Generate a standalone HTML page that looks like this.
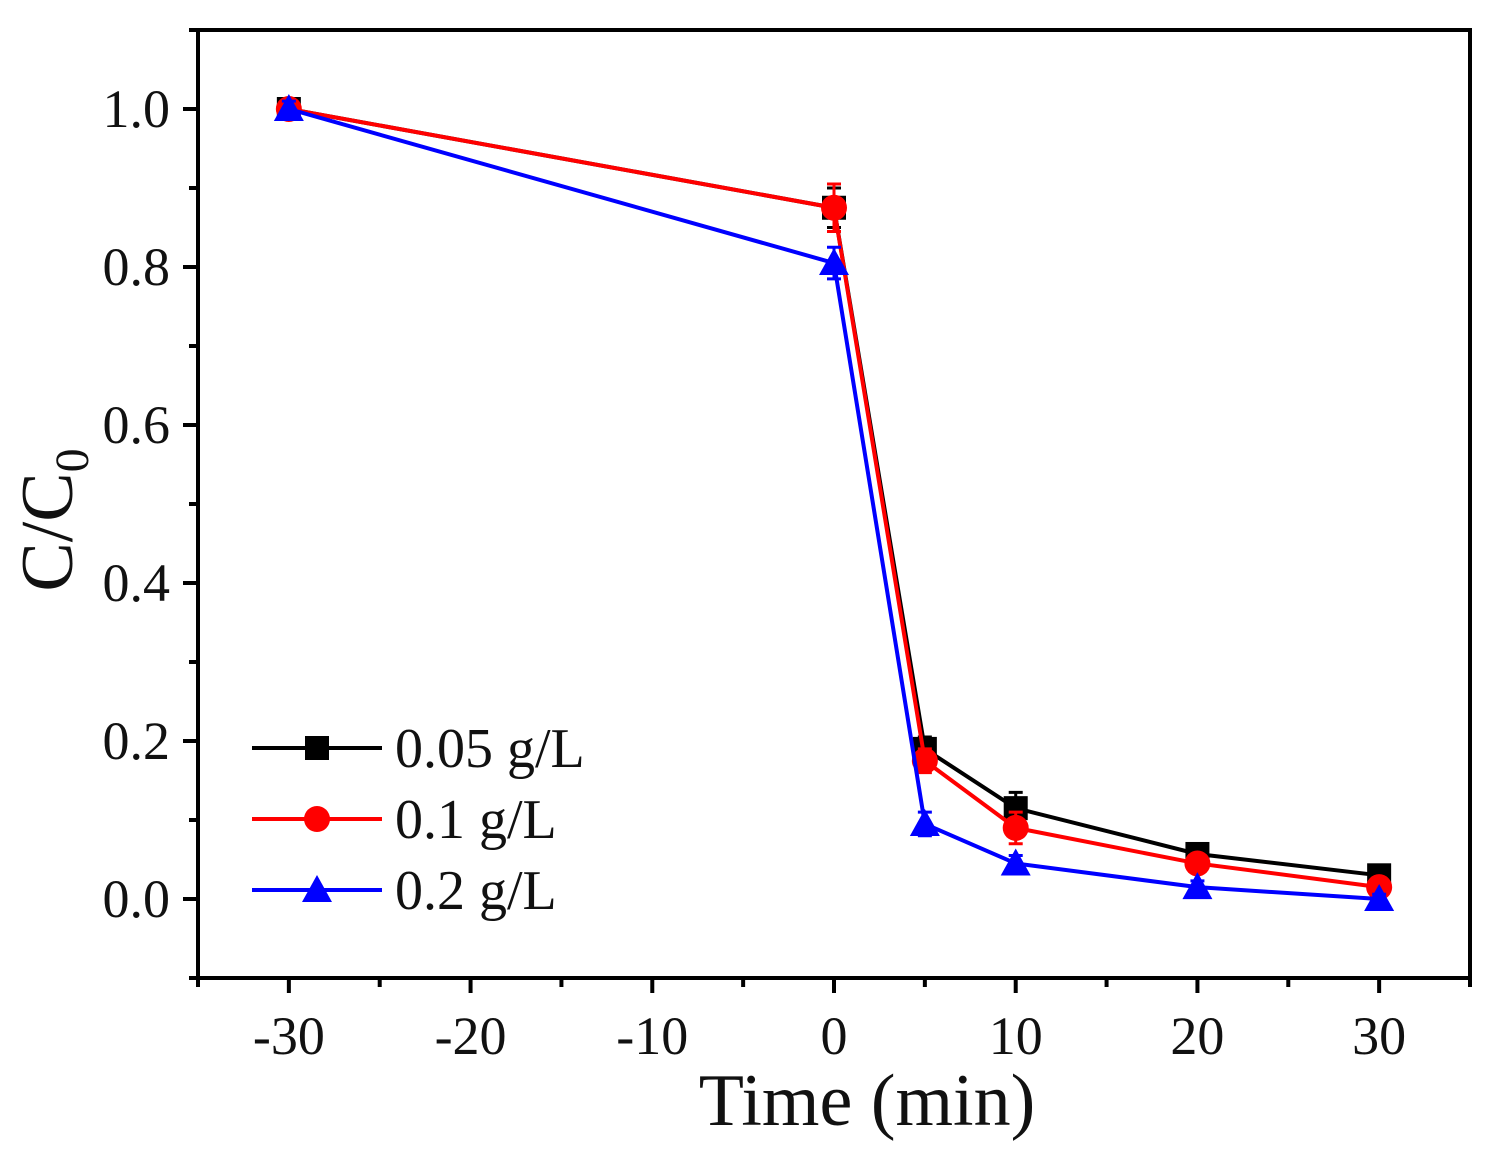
<!DOCTYPE html>
<html><head><meta charset="utf-8"><style>
body{margin:0;background:#fff}
svg text{font-family:"Liberation Serif",serif;fill:#111}
</style></head><body>
<svg id="chart" width="1502" height="1158" viewBox="0 0 1502 1158" xmlns="http://www.w3.org/2000/svg">
<g id="axes"></g><g id="series"></g><g id="legend"></g>
</svg>
<script>
const xValues=[-30,0,5,10,20,30];
const series1=[1.0,0.875,0.19,0.115,0.057,0.03];
const series2=[1.0,0.875,0.175,0.09,0.045,0.015];
const series3=[1.0,0.805,0.095,0.045,0.015,0.0];
const err1=[0.01,0.025,0.015,0.02,0.01,0.008];
const err2=[0.01,0.03,0.015,0.02,0.01,0.008];
const err3=[0.01,0.02,0.015,0.01,0.008,0.006];
const seriesNames=["0.05 g/L","0.1 g/L","0.2 g/L"];
const xTicks=[-30,-20,-10,0,10,20,30];
const yTicks=[0,0.2,0.4,0.6,0.8,1.0];
const NS="http://www.w3.org/2000/svg";
const L=198,R=1470,T=30,B=978;
const X=v=>L+(v+35)/70*(R-L);
const Y=v=>B-(v+0.1)/1.2*(B-T);
function mk(tag,at,parent){const e=document.createElementNS(NS,tag);for(const k in at)e.setAttribute(k,at[k]);parent.appendChild(e);return e;}
const ax=document.getElementById('axes');
const fr=mk('rect',{x:L,y:T,width:R-L,height:B-T,fill:'none',stroke:'#000','stroke-width':4},ax);

for(let v=-35;v<=35;v+=5){const big=v%10===0;const t=mk('line',{x1:X(v),x2:X(v),y1:B,y2:B+(big?15:9),stroke:'#000','stroke-width':4},ax);
}
xTicks.forEach(v=>{const t=mk('text',{x:X(v),y:1054,'font-size':54,'text-anchor':'middle'},ax);t.textContent=v;
});
for(let i=-1;i<=11;i++){const v=i/10;const big=i%2===0;const t=mk('line',{x1:L,x2:L-(big?15:9),y1:Y(v),y2:Y(v),stroke:'#000','stroke-width':4},ax);
}
yTicks.forEach(v=>{const t=mk('text',{x:170,y:Y(v)+18,'font-size':54,'text-anchor':'end'},ax);t.textContent=v.toFixed(1);
});
const xt=mk('text',{x:867,y:1125,'font-size':74,'text-anchor':'middle'},ax);xt.textContent='Time (min)';

const yt=mk('text',{transform:'translate(72,520) rotate(-90)','font-size':74,'text-anchor':'middle'},ax);
yt.innerHTML='C/C<tspan font-size="48" dy="16">0</tspan>';

const colors=['#000','#f00','#00f'];const shapes=['square','circle','triangle'];
function marker(g,sh,x,y,c){let m;
if(sh==='square')m=mk('rect',{x:x-12,y:y-12,width:24,height:24,fill:c},g);
else if(sh==='circle')m=mk('circle',{cx:x,cy:y,r:13,fill:c},g);
else m=mk('polygon',{points:`${x},${y-15} ${x-15},${y+12} ${x+15},${y+12}`,fill:c},g);
return m;}
const sg=document.getElementById('series');
[[series1,err1],[series2,err2],[series3,err3]].forEach(([d,e],si)=>{
 const g=mk('g',{},sg);
 const pl=mk('polyline',{points:xValues.map((x,i)=>X(x)+','+Y(d[i])).join(' '),fill:'none',stroke:colors[si],'stroke-width':4},g);
 
 xValues.forEach((x,i)=>{const eb=mk('path',{d:`M${X(x)-7},${Y(d[i]+e[i])}H${X(x)+7}M${X(x)},${Y(d[i]+e[i])}V${Y(d[i]-e[i])}M${X(x)-7},${Y(d[i]-e[i])}H${X(x)+7}`,stroke:colors[si],'stroke-width':3,fill:'none'},g);
 
 const m=marker(g,shapes[si],X(x),Y(d[i]),colors[si]);});
});
const lg=document.getElementById('legend');
seriesNames.forEach((n,i)=>{const y=748+i*71;const g=mk('g',{},lg);
 
 mk('line',{x1:252,x2:382,y1:y,y2:y,stroke:colors[i],'stroke-width':4},g);
 marker(g,shapes[i],317,y,colors[i]);
 const t=mk('text',{x:395,y:y+19,'font-size':56},g);t.textContent=n;});
</script>
</body></html>
